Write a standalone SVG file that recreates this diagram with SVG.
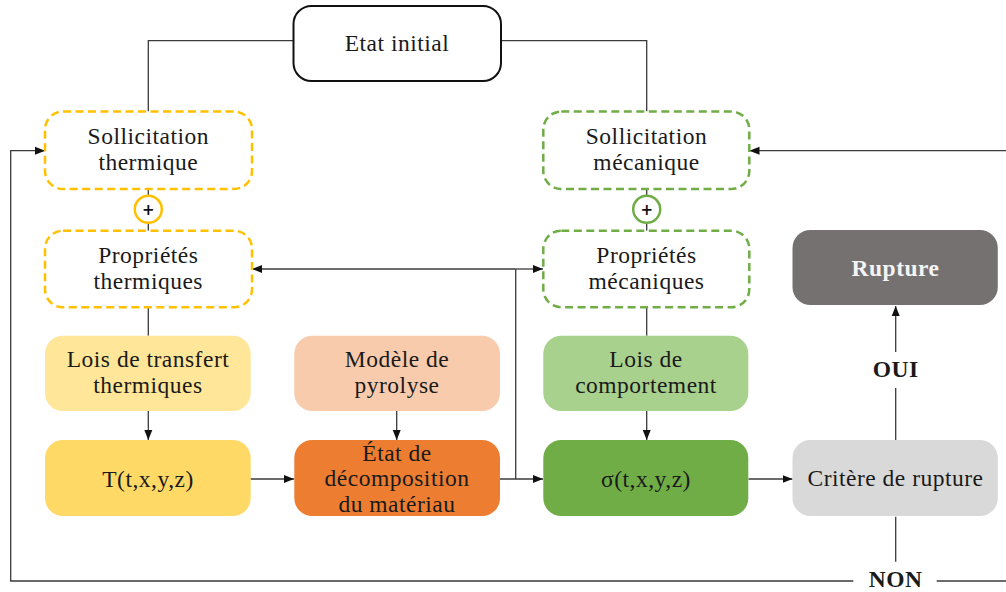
<svg xmlns="http://www.w3.org/2000/svg" width="1006" height="592" viewBox="0 0 1006 592">
<style>
text{font-family:'Liberation Serif','Times New Roman',serif;font-size:23.5px;letter-spacing:0.5px;fill:#1a1a1a;text-anchor:middle}
.b{font-weight:bold}
.w{fill:#f4f4f4;font-weight:bold}
.c{fill:none;stroke:#3a3a3a;stroke-width:1.3}
.dy{fill:#fff;stroke:#FFC000;stroke-width:2.5;stroke-dasharray:8 4.5}
.dg{fill:#fff;stroke:#70AD47;stroke-width:2.5;stroke-dasharray:8 4.5}
text.plus{font-family:'DejaVu Sans',sans-serif;font-size:15px;letter-spacing:0;font-weight:bold;fill:#111}
</style>
<defs>
<marker id="ah" markerUnits="userSpaceOnUse" markerWidth="10" markerHeight="10" viewBox="0 0 10 10" refX="10" refY="5" orient="auto">
<path d="M0,1 L10,5 L0,9 Z" fill="#111"/>
</marker>
</defs>
<g id="connectors">
<path class="c" d="M293,40.7 H148.3 V111.5"/>
<path class="c" d="M501,40.7 H646.7 V111.5"/>
<path class="c" d="M148.3,189 V195"/>
<path class="c" d="M148.3,223.6 V230.7"/>
<path class="c" d="M646.7,189 V195"/>
<path class="c" d="M646.7,223.6 V230.7"/>
<path class="c" d="M148.3,307.3 V335.7"/>
<path class="c" d="M646.7,307.3 V335.7"/>
<path class="c" d="M148.3,411 V440" marker-end="url(#ah)"/>
<path class="c" d="M396.7,411 V440" stroke-width="2" marker-end="url(#ah)"/>
<path class="c" d="M646.7,411 V440" marker-end="url(#ah)"/>
<path class="c" d="M250.5,479 H294" marker-end="url(#ah)"/>
<path class="c" d="M500,479 H543" marker-end="url(#ah)"/>
<path class="c" d="M748.5,479 H792.5" marker-end="url(#ah)"/>
<path class="c" d="M515.7,479 V269"/>
<path class="c" d="M515.7,269 H252" marker-end="url(#ah)"/>
<path class="c" d="M515.7,269 H543" marker-end="url(#ah)"/>
<path class="c" d="M895.7,516.7 V561.7"/>
<path class="c" d="M895.7,440 V388"/>
<path class="c" d="M895.7,352 V306" marker-end="url(#ah)"/>
<path class="c" d="M853.3,581 H10.7 V150.7 H45" stroke="#666" stroke-width="1.5" marker-end="url(#ah)"/>
<path class="c" d="M1006,581 H936.7" stroke="#666" stroke-width="1.5"/>
<path class="c" d="M1006,150.7 H749.5" marker-end="url(#ah)"/>
</g>
<g id="etat-initial">
<rect x="293.5" y="6" width="207.5" height="75" rx="18" fill="#fff" stroke="#111" stroke-width="2"/>
<text x="397" y="50.7">Etat initial</text>
</g>
<g id="sollicitation-thermique">
<rect class="dy" x="45" y="111.5" width="207" height="77.5" rx="18"/>
<text x="148.3" y="143.5">Sollicitation</text>
<text x="148.3" y="169.7">thermique</text>
</g>
<g id="plus-thermique">
<circle cx="148.3" cy="209.3" r="13.5" fill="#fff" stroke="#FFC000" stroke-width="2.5"/>
<text class="plus" x="148.3" y="214.5">+</text>
</g>
<g id="proprietes-thermiques">
<rect class="dy" x="45" y="230.7" width="207" height="76.6" rx="18"/>
<text x="148.3" y="263.3">Propriétés</text>
<text x="148.3" y="289.3">thermiques</text>
</g>
<g id="lois-transfert">
<rect x="45" y="335.7" width="205.7" height="75.3" rx="18" fill="#FFE699"/>
<text x="148" y="367.3">Lois de transfert</text>
<text x="148" y="393.3">thermiques</text>
</g>
<g id="temperature">
<rect x="45" y="440" width="205.7" height="76" rx="18" fill="#FFD966"/>
<text x="148" y="486.5">T(t,x,y,z)</text>
</g>
<g id="modele-pyrolyse">
<rect x="294.3" y="335.7" width="205.7" height="75.3" rx="18" fill="#F8CBAD"/>
<text x="397" y="367.3">Modèle de</text>
<text x="397" y="393.3">pyrolyse</text>
</g>
<g id="etat-decomposition">
<rect x="294.3" y="440" width="205.7" height="76" rx="18" fill="#ED7D31"/>
<text x="397" y="460.5">État de</text>
<text x="397" y="486">décomposition</text>
<text x="397" y="511.5">du matériau</text>
</g>
<g id="sollicitation-mecanique">
<rect class="dg" x="543.3" y="111.5" width="206" height="77.5" rx="18"/>
<text x="646.5" y="143.5">Sollicitation</text>
<text x="646.5" y="169.7">mécanique</text>
</g>
<g id="plus-mecanique">
<circle cx="646.7" cy="209.3" r="13.5" fill="#fff" stroke="#70AD47" stroke-width="2.5"/>
<text class="plus" x="646.7" y="214.5">+</text>
</g>
<g id="proprietes-mecaniques">
<rect class="dg" x="543.3" y="230.7" width="206" height="76.6" rx="18"/>
<text x="646.5" y="263.3">Propriétés</text>
<text x="646.5" y="289.3">mécaniques</text>
</g>
<g id="lois-comportement">
<rect x="543.3" y="335.7" width="205" height="75.3" rx="18" fill="#A9D18E"/>
<text x="646" y="367.3">Lois de</text>
<text x="646" y="393.3">comportement</text>
</g>
<g id="contrainte">
<rect x="543.3" y="440" width="205" height="76" rx="18" fill="#70AD47"/>
<text x="646" y="486.5">σ(t,x,y,z)</text>
</g>
<g id="critere-rupture">
<rect x="792.5" y="440" width="205.3" height="76" rx="18" fill="#D9D9D9"/>
<text x="895.5" y="486">Critère de rupture</text>
</g>
<g id="rupture">
<rect x="792.5" y="230" width="205.3" height="75" rx="18" fill="#767171"/>
<text class="w" x="895.5" y="275.5">Rupture</text>
</g>
<g id="label-oui">
<text class="b" x="895.7" y="377">OUI</text>
</g>
<g id="label-non">
<text class="b" x="895.7" y="587">NON</text>
</g>
</svg>
